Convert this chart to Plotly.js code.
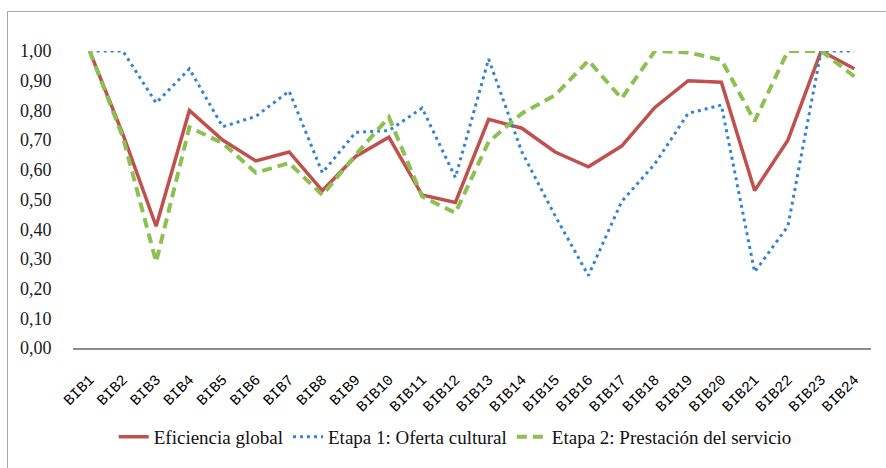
<!DOCTYPE html>
<html>
<head>
<meta charset="utf-8">
<script src="https://cdn.plot.ly/plotly-3.0.1.min.js"></script>
<style>
html,body{margin:0;padding:0;background:#fff;overflow:hidden;}
#chart{width:886px;height:468px;position:absolute;left:0;top:0;}
#frame{position:absolute;left:7px;top:11px;width:900px;height:500px;border:1.5px solid #a9a9a9;pointer-events:none;}
</style>
</head>
<body>
<div id="chart"></div>
<div id="frame"></div>
<script>
const categories = ["BIB1","BIB2","BIB3","BIB4","BIB5","BIB6","BIB7","BIB8","BIB9","BIB10","BIB11","BIB12","BIB13","BIB14","BIB15","BIB16","BIB17","BIB18","BIB19","BIB20","BIB21","BIB22","BIB23","BIB24"];
const eficienciaGlobal = [1.00,0.72,0.41,0.80,0.70,0.63,0.66,0.53,0.645,0.71,0.515,0.49,0.77,0.74,0.66,0.61,0.68,0.81,0.90,0.895,0.53,0.70,1.00,0.94];
const etapa1 = [1.00,1.00,0.825,0.94,0.745,0.78,0.865,0.59,0.726,0.732,0.808,0.574,0.973,0.66,0.445,0.244,0.493,0.62,0.79,0.818,0.256,0.41,1.00,1.00];
const etapa2 = [1.00,0.71,0.29,0.743,0.69,0.59,0.623,0.515,0.65,0.777,0.51,0.455,0.694,0.79,0.851,0.968,0.84,1.00,0.995,0.97,0.764,1.00,1.00,0.914];
const seriesNames = ["Eficiencia global","Etapa 1: Oferta cultural","Etapa 2: Prestación del servicio"];
const yTicks = [0,0.1,0.2,0.3,0.4,0.5,0.6,0.7,0.8,0.9,1.0];

const serif = 'Liberation Serif';

const traces = [
  {x:categories,y:eficienciaGlobal,name:seriesNames[0],type:'scatter',mode:'lines',cliponaxis:false,
   line:{color:'#c0504d',width:3.5}},
  {x:categories,y:etapa1,name:seriesNames[1],type:'scatter',mode:'lines',cliponaxis:false,
   line:{color:'#3583d0',width:3,dash:'3px,4px'}},
  {x:categories,y:etapa2,name:seriesNames[2],type:'scatter',mode:'lines',cliponaxis:false,
   line:{color:'#8cc152',width:4,dash:'10px,6px'}}
];

const layout = {
  width:886,height:468,
  paper_bgcolor:'#fff',plot_bgcolor:'#fff',
  margin:{l:73,r:15,t:51,b:110},
  separators:',.',
  showlegend:true,
  legend:{orientation:'h',x:0.479,xanchor:'center',y:-0.235,yanchor:'top',
    font:{family:serif,size:19,color:'#111'},traceorder:'normal'},
  xaxis:{type:'category',showgrid:false,zeroline:false,showline:true,linecolor:'#8c8c8c',linewidth:1.5,
    tickangle:-45,ticks:'outside',ticklen:15,tickcolor:'rgba(0,0,0,0)',automargin:false,
    tickfont:{family:'Liberation Mono',size:15,color:'#000'},
    range:[-0.5,23.5]},
  yaxis:{range:[0,1],tickvals:yTicks,tickformat:'.2f',showgrid:false,zeroline:false,showline:false,
    ticks:'outside',ticklen:17,tickcolor:'rgba(0,0,0,0)',automargin:false,
    tickfont:{family:serif,size:18,color:'#1a1a1a'}},
};
Plotly.newPlot('chart',traces,layout,{displayModeBar:false});
</script>
</body>
</html>
